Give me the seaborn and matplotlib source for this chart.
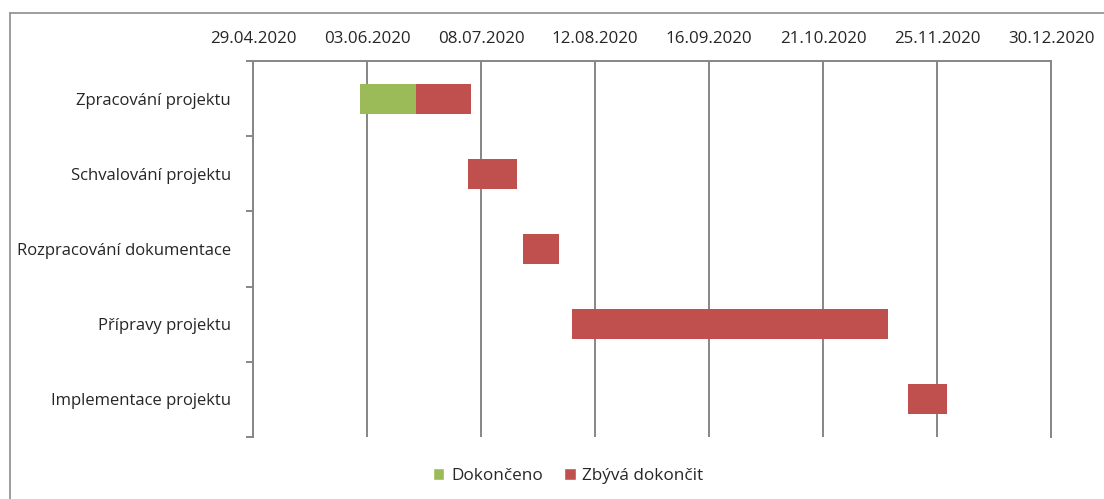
import matplotlib
matplotlib.use("Agg")
import matplotlib.pyplot as plt
import matplotlib.dates as mdates
from matplotlib.lines import Line2D
from matplotlib.patches import Patch
import seaborn as sns
import pandas as pd
import numpy as np

tasks = ["Zpracování projektu", "Schvalování projektu", "Rozpracování dokumentace",
         "Přípravy projektu", "Implementace projektu"]
start_dates = ["2020-06-01", "2020-07-04", "2020-07-21", "2020-08-05", "2020-11-16"]
done_days = [17, 0, 0, 0, 0]
remaining_days = [17, 15, 11, 97, 12]
tick_labels = ["29.04.2020", "03.06.2020", "08.07.2020", "12.08.2020",
               "16.09.2020", "21.10.2020", "25.11.2020", "30.12.2020"]
legend_labels = ["Dokončeno", "Zbývá dokončit"]

sns.set_theme(style="white")
plt.rcParams['font.family'] = ['Open Sans', 'DejaVu Sans']

green = "#9BBB59"
red = "#C0504D"
grid_c = "#868686"
text_c = "#262626"

df = pd.DataFrame({"task": tasks,
                   "start": pd.to_datetime(start_dates),
                   "done": done_days,
                   "remaining": remaining_days})
df["start_num"] = mdates.date2num(df["start"])

fig = plt.figure(figsize=(11.04, 4.99), dpi=100)
W, H = 1104, 499
ax = fig.add_axes([253 / W, 1 - 437 / H, (1051 - 253) / W, (437 - 61) / H])

y = np.arange(len(tasks))
ax.barh(y, df["done"], left=df["start_num"], height=0.4, color=green,
        linewidth=0, zorder=3)
ax.barh(y, df["remaining"], left=df["start_num"] + df["done"], height=0.4, color=red,
        linewidth=0, zorder=3)

tick_nums = mdates.date2num(pd.to_datetime(tick_labels, format="%d.%m.%Y"))
ax.set_xlim(tick_nums[0], tick_nums[-1])
ax.set_xticks(tick_nums)
ax.set_xticklabels(tick_labels)
ax.xaxis.tick_top()
ax.tick_params(axis="x", length=0, pad=10, labelsize=12.2, labelcolor=text_c)
ax.grid(axis="x", color=grid_c, linewidth=1.4, zorder=0)

ax.set_ylim(len(tasks) - 0.5, -0.5)
ax.set_yticks(y)
ax.set_yticklabels(tasks)
ax.set_yticks(np.arange(-0.5, len(tasks)), minor=True)
ax.tick_params(axis="y", which="major", length=0, pad=16, labelsize=12, labelcolor=text_c)
ax.tick_params(axis="y", which="minor", length=5, width=1.4, color=grid_c, left=True)

for side in ["left", "top", "right"]:
    ax.spines[side].set_visible(True)
    ax.spines[side].set_color(grid_c)
    ax.spines[side].set_linewidth(1.4)
ax.spines["bottom"].set_visible(False)

# outer chart frame
fig.add_artist(Line2D([9.5 / W, 9.5 / W], [0, 1 - 12.5 / H], transform=fig.transFigure,
                      color="#8c8c8c", linewidth=1.2))
fig.add_artist(Line2D([9.5 / W, 1], [1 - 12.5 / H, 1 - 12.5 / H], transform=fig.transFigure,
                      color="#8c8c8c", linewidth=1.2))

handles = [Patch(facecolor=green), Patch(facecolor=red)]
fig.legend(handles, legend_labels, loc="center", bbox_to_anchor=(568 / W, 1 - 476 / H),
           ncol=2, frameon=False, fontsize=12.3, handlelength=0.7, handleheight=0.7,
           handletextpad=0.4, columnspacing=1.2, labelcolor=text_c)

fig.savefig("out.png", dpi=100)
